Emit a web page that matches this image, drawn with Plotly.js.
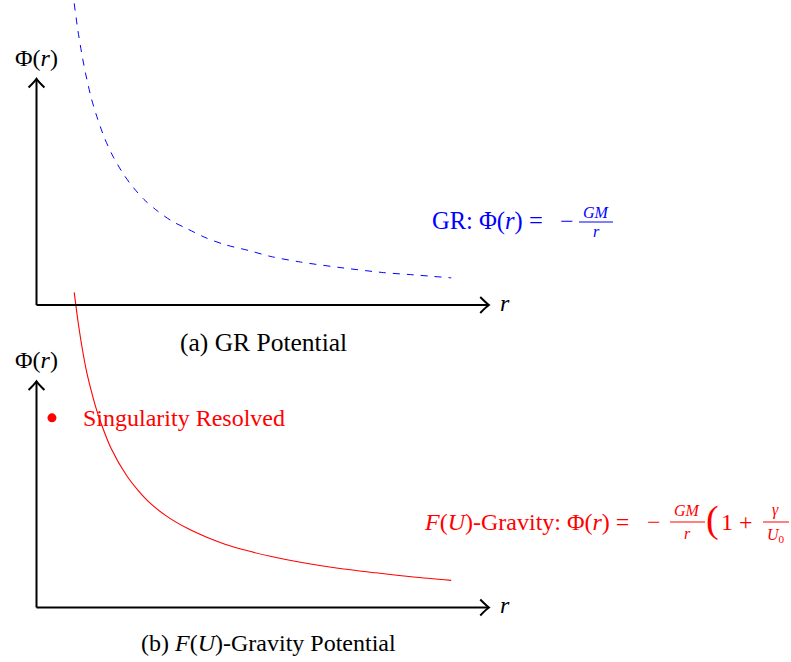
<!DOCTYPE html>
<html>
<head>
<meta charset="utf-8">
<script src="https://cdn.plot.ly/plotly-3.0.1.min.js"></script>
<style>html,body{margin:0;padding:0;background:#fff;}#chart{width:791px;height:662px;}</style>
</head>
<body>
<div id="chart"></div>
<script>
// ---- data ----
const rGR = [1, 1.1, 1.2, 1.3, 1.45, 1.6, 1.8, 2, 2.25, 2.5, 2.85, 3.2, 3.6, 4, 4.5, 5, 5.65, 6.2, 7, 8, 9.2, 10, 11];
const phiGR = [8.0, 7.27, 6.67, 6.15, 5.5, 5.0, 4.44, 4.0, 3.56, 3.2, 2.8, 2.5, 2.22, 2.02, 1.78, 1.6, 1.44, 1.29, 1.14, 1.0, 0.86, 0.8, 0.72];
const rFU = [1, 1.1, 1.2, 1.33, 1.46, 1.6, 1.73, 1.97, 2.39, 2.7, 3.0, 3.47, 4.0, 4.5, 5.0, 5.5, 6.2, 7.0, 8, 9, 10, 11];
const phiFU = [8.36, 7.6, 6.95, 6.25, 5.72, 5.22, 4.84, 4.24, 3.5, 3.1, 2.78, 2.41, 2.1, 1.87, 1.68, 1.53, 1.36, 1.2, 1.04, 0.92, 0.81, 0.72];
const singR = [0.41];
const singPhi = [5.03];
const axisXLabel = 'r';
const axisYLabel = 'Φ(<i>r</i>)';
const captionA = '(a) GR Potential';
const captionB = '(b) <i>F</i>(<i>U</i>)-Gravity Potential';

// ---- layout helpers (pixel -> paper) ----
const W = 791, H = 662;
const px = v => v / W;
const py = v => 1 - v / H;
const FONT = "'Liberation Serif', 'DejaVu Serif', serif";
const BLUE = 'rgb(0,0,255)', RED = 'rgb(255,0,0)';

function txt(text, x, y, size, color, xanchor) {
  return {text: text, x: px(x), y: py(y), xref: 'paper', yref: 'paper', showarrow: false,
    xanchor: xanchor || 'center', yanchor: 'middle', borderpad: 0,
    font: {family: FONT, size: size, color: color || '#000'}};
}
function bar(x0, x1, y, color) {
  return {type: 'line', xref: 'paper', yref: 'paper', x0: px(x0), x1: px(x1), y0: py(y), y1: py(y),
    line: {color: color, width: 1}};
}
function axesShapes(yref) {
  const st = {color: '#000', width: 2};
  return [
    {type: 'line', xref: 'x', yref: yref, x0: 0, y0: 0, x1: 12, y1: 0, line: st},
    {type: 'line', xref: 'x', yref: yref, x0: 0, y0: 0, x1: 0, y1: 6, line: st},
    {type: 'path', xref: 'x', yref: yref, path: 'M 11.77,0.21 Q 11.93,0.05 12,0 Q 11.93,-0.05 11.77,-0.21', line: st},
    {type: 'path', xref: 'x', yref: yref, path: 'M -0.21,5.77 Q -0.05,5.93 0,6 Q 0.05,5.93 0.21,5.77', line: st}
  ];
}

const traces = [
  {x: rGR, y: phiGR, type: 'scatter', mode: 'lines', xaxis: 'x', yaxis: 'y',
   line: {color: BLUE, width: 1, dash: '7px,7px', shape: 'spline', smoothing: 0.8}, hoverinfo: 'skip'},
  {x: rFU, y: phiFU, type: 'scatter', mode: 'lines', xaxis: 'x', yaxis: 'y2',
   line: {color: RED, width: 1.1, shape: 'spline', smoothing: 0.8}, hoverinfo: 'skip'},
  {x: singR, y: singPhi, type: 'scatter', mode: 'markers', xaxis: 'x', yaxis: 'y2',
   marker: {color: RED, size: 9}, hoverinfo: 'skip'}
];

const annotations = [
  txt(axisYLabel, 36.5, 58, 24),
  txt(axisYLabel, 36.5, 360, 24),
  txt('<i>' + axisXLabel + '</i>', 505, 303, 24),
  txt('<i>' + axisXLabel + '</i>', 505, 605, 24),
  txt(captionA, 263, 342, 25.5),
  txt(captionB, 268, 643, 24),
  txt('Singularity Resolved', 82, 418, 24, RED, 'left'),
  // GR formula
  txt('GR: Φ(<i>r</i>) =', 487, 221, 24.5, BLUE),
  txt('−', 567, 221, 24, BLUE),
  txt('<i>GM</i>', 596, 212, 16, BLUE),
  txt('<i>r</i>', 596, 232, 16, BLUE),
  // F(U) formula
  txt('<i>F</i>(<i>U</i>)-Gravity: Φ(<i>r</i>) =', 423, 522, 24, RED, 'left'),
  txt('−', 654, 522, 24, RED),
  txt('<i>GM</i>', 687.5, 511, 16, RED),
  txt('<i>r</i>', 687.5, 533, 16, RED),
  txt('(', 712, 519, 38, RED),
  txt('1 +', 737, 522, 24, RED),
  txt('<i>γ</i>', 775, 510, 16, RED),
  txt('<i>U</i><sub>0</sub>', 776, 535, 16, RED)
];

const shapes = [].concat(axesShapes('y'), axesShapes('y2'), [
  bar(579, 613, 222, BLUE),
  bar(670, 705, 522, RED),
  bar(763, 789, 522, RED)
]);

const X0 = 36.5, S = 37.7, TOP0 = 305, BOT0 = 607.5;
const layout = {
  width: W, height: H,
  margin: {l: 0, r: 0, t: 0, b: 0, pad: 0},
  paper_bgcolor: '#fff', plot_bgcolor: '#fff',
  showlegend: false,
  font: {family: FONT},
  xaxis: {range: [-X0 / S, (W - X0) / S], visible: false, showgrid: false, zeroline: false},
  yaxis: {range: [(TOP0 - H) / S, TOP0 / S], visible: false, showgrid: false, zeroline: false},
  yaxis2: {range: [(BOT0 - H) / S, BOT0 / S], overlaying: 'y', visible: false, showgrid: false, zeroline: false},
  annotations: annotations,
  shapes: shapes
};

Plotly.newPlot('chart', traces, layout, {staticPlot: true, displayModeBar: false});
</script>
</body>
</html>
